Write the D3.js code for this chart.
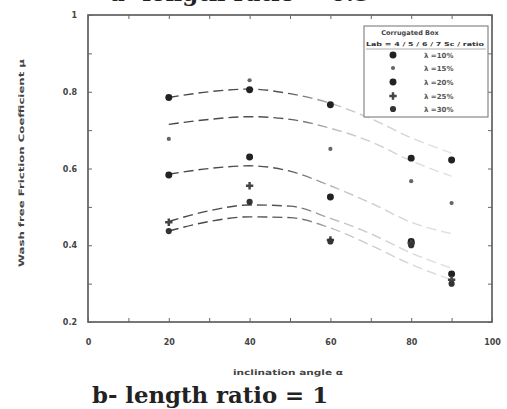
<!DOCTYPE html>
<html>
<head>
<meta charset="utf-8">
<script src="https://cdn.jsdelivr.net/npm/d3@7"></script>
<style>
  html, body { margin: 0; padding: 0; background: #fff; }
  svg { display: block; }
</style>
</head>
<body>
<svg id="chart" width="507" height="409"></svg>
<script>
// Measured inclination angles (degrees)
const angles = [20, 40, 60, 80, 90];

// Wash-free friction coefficient per corrugation size
const seriesA = [0.785, 0.805, 0.766, 0.627, 0.622];
const seriesB = [0.677, 0.830, 0.651, 0.567, 0.510];
const seriesC = [0.583, 0.630, 0.526, 0.410, 0.325];
const seriesD = [0.460, 0.555, 0.414, 0.405, 0.310];
const seriesE = [0.437, 0.513, 0.410, 0.400, 0.300];

// Trend curves for each series
const trendAngles = [20, 30, 40, 50, 60, 70, 80, 90];
const trendA = [0.785, 0.800, 0.807, 0.795, 0.770, 0.730, 0.680, 0.640];
const trendB = [0.715, 0.728, 0.735, 0.728, 0.705, 0.670, 0.620, 0.580];
const trendC = [0.585, 0.600, 0.607, 0.593, 0.555, 0.510, 0.460, 0.430];
const trendD = [0.462, 0.490, 0.505, 0.502, 0.470, 0.430, 0.380, 0.340];
const trendE = [0.437, 0.462, 0.474, 0.472, 0.445, 0.400, 0.350, 0.310];

const legendLabels = ["λ =10%", "λ =15%", "λ =20%", "λ =25%", "λ =30%"];
const xTicks = [0, 20, 40, 60, 80, 100];
const yTicks = [0.2, 0.4, 0.6, 0.8, 1];

const svg = d3.select("#chart");
const plotLeft = 88, plotRight = 492, plotTop = 15, plotBottom = 322;

const x = d3.scaleLinear().domain([0, 100]).range([plotLeft, plotRight]);
const y = d3.scaleLinear().domain([0.2, 1]).range([plotBottom, plotTop]);

const font = "DejaVu Sans, sans-serif";
const titleFont = "DejaVu Serif, serif";

// Titles (the upper one runs off the top edge of the page)
svg.append("text")
  .attr("x", 110).attr("y", 1)
  .attr("font-family", titleFont).attr("font-weight", "bold")
  .attr("font-size", 22).attr("fill", "#222")
  .attr("textLength", 260).attr("lengthAdjust", "spacingAndGlyphs")
  .text("a- length ratio = 0.5");

svg.append("text")
  .attr("x", 92).attr("y", 403)
  .attr("font-family", titleFont).attr("font-weight", "bold")
  .attr("font-size", 22).attr("fill", "#222")
  .attr("textLength", 236).attr("lengthAdjust", "spacingAndGlyphs")
  .text("b- length ratio = 1");

// Frame
svg.append("rect")
  .attr("x", plotLeft).attr("y", plotTop)
  .attr("width", plotRight - plotLeft).attr("height", plotBottom - plotTop)
  .attr("fill", "none").attr("stroke", "#555").attr("stroke-width", 1.6);

// Axes with inward ticks
const minorX = d3.range(0, 101, 10);
const minorY = d3.range(0.2, 1.001, 0.1);

function styleTicks(g) {
  g.select(".domain").remove();
  g.selectAll("line").attr("stroke", "#666");
}

svg.append("g").attr("transform", `translate(0,${plotBottom})`)
  .call(d3.axisBottom(x).tickValues(minorX).tickSizeInner(-4).tickSizeOuter(0).tickFormat(""))
  .call(styleTicks);
svg.append("g").attr("transform", `translate(0,${plotTop})`)
  .call(d3.axisTop(x).tickValues(minorX).tickSizeInner(-4).tickSizeOuter(0).tickFormat(""))
  .call(styleTicks);
svg.append("g").attr("transform", `translate(${plotLeft},0)`)
  .call(d3.axisLeft(y).tickValues(minorY).tickSizeInner(-4).tickSizeOuter(0).tickFormat(""))
  .call(styleTicks);
svg.append("g").attr("transform", `translate(${plotRight},0)`)
  .call(d3.axisRight(y).tickValues(minorY).tickSizeInner(-4).tickSizeOuter(0).tickFormat(""))
  .call(styleTicks);

// Tick labels
svg.append("g").attr("transform", `translate(0,${plotBottom})`)
  .call(d3.axisBottom(x).tickValues(xTicks).tickSize(0).tickPadding(17).tickFormat(d3.format("d")))
  .call(g => g.select(".domain").remove())
  .call(g => g.selectAll("text").attr("font-family", font).attr("font-size", 8)
    .attr("font-weight", "bold").attr("fill", "#444"));
svg.append("g").attr("transform", `translate(${plotLeft},0)`)
  .call(d3.axisLeft(y).tickValues(yTicks).tickSize(0).tickPadding(11)
    .tickFormat(d => d === 1 ? "1" : d3.format(".1f")(d)))
  .call(g => g.select(".domain").remove())
  .call(g => g.selectAll("text").attr("font-family", font).attr("font-size", 8)
    .attr("font-weight", "bold").attr("fill", "#444"));

// Axis titles
svg.append("text")
  .attr("x", 233).attr("y", 375)
  .attr("font-family", font).attr("font-size", 7.5).attr("font-weight", "bold").attr("fill", "#444")
  .attr("textLength", 110).attr("lengthAdjust", "spacingAndGlyphs")
  .text("inclination angle α");
svg.append("text")
  .attr("transform", "translate(24,267) rotate(-90)")
  .attr("font-family", font).attr("font-size", 7.5).attr("font-weight", "bold").attr("fill", "#444")
  .attr("textLength", 208).attr("lengthAdjust", "spacingAndGlyphs")
  .text("Wash free Friction Coefficient μ");

// Trend lines fade out toward high angles
const defs = svg.append("defs");
const grad = defs.append("linearGradient").attr("id", "trendFade")
  .attr("gradientUnits", "userSpaceOnUse")
  .attr("x1", x(20)).attr("x2", x(90)).attr("y1", 0).attr("y2", 0);
grad.append("stop").attr("offset", 0).attr("stop-color", "#444");
grad.append("stop").attr("offset", 0.42).attr("stop-color", "#555");
grad.append("stop").attr("offset", 0.6).attr("stop-color", "#c4c4c4");
grad.append("stop").attr("offset", 1).attr("stop-color", "#e2e2e2");

const trends = [trendA, trendB, trendC, trendD, trendE];
const line = d3.line()
  .x((d, i) => x(trendAngles[i]))
  .y(d => y(d))
  .curve(d3.curveMonotoneX);

svg.append("g").selectAll("path").data(trends).join("path")
  .attr("d", line)
  .attr("fill", "none")
  .attr("stroke", "url(#trendFade)")
  .attr("stroke-width", 1.4)
  .attr("stroke-dasharray", "10,5");

// Data points
const series = [seriesA, seriesB, seriesC, seriesD, seriesE];
const markerSize = [38, 14, 38, 30, 30];
const markerType = [d3.symbolCircle, d3.symbolCircle, d3.symbolCircle, d3.symbolCross, d3.symbolCircle];
const markerFill = ["#222", "#666", "#222", "#444", "#333"];

series.forEach((vals, s) => {
  svg.append("g").selectAll("path").data(vals).join("path")
    .attr("transform", (d, i) => `translate(${x(angles[i])},${y(d)})`)
    .attr("d", d3.symbol().type(markerType[s]).size(markerSize[s]))
    .attr("fill", markerFill[s]);
});

// Legend
const lg = svg.append("g");
lg.append("rect")
  .attr("x", 364).attr("y", 26).attr("width", 124).attr("height", 91)
  .attr("fill", "#fff").attr("stroke", "#888").attr("stroke-width", 1.2);
lg.append("text")
  .attr("x", 410).attr("y", 35).attr("text-anchor", "middle")
  .attr("font-family", font).attr("font-size", 6.5).attr("font-weight", "bold").attr("fill", "#444")
  .text("Corrugated Box");
lg.append("text")
  .attr("x", 366).attr("y", 46)
  .attr("font-family", font).attr("font-size", 5.5).attr("font-weight", "bold").attr("fill", "#333")
  .attr("textLength", 118).attr("lengthAdjust", "spacingAndGlyphs")
  .text("Lab = 4 / 5 / 6 / 7   Sc / ratio");
lg.append("line")
  .attr("x1", 366).attr("x2", 486).attr("y1", 49).attr("y2", 49)
  .attr("stroke", "#999").attr("stroke-width", 0.8);

const rowY = [55, 68, 82, 96, 109];
legendLabels.forEach((lab, s) => {
  lg.append("path")
    .attr("transform", `translate(393,${rowY[s]})`)
    .attr("d", d3.symbol().type(markerType[s]).size(markerSize[s]))
    .attr("fill", markerFill[s]);
  lg.append("text")
    .attr("x", 424).attr("y", rowY[s] + 2.5)
    .attr("font-family", font).attr("font-size", 7).attr("font-weight", "bold").attr("fill", "#555")
    .text(lab);
});
</script>
</body>
</html>
